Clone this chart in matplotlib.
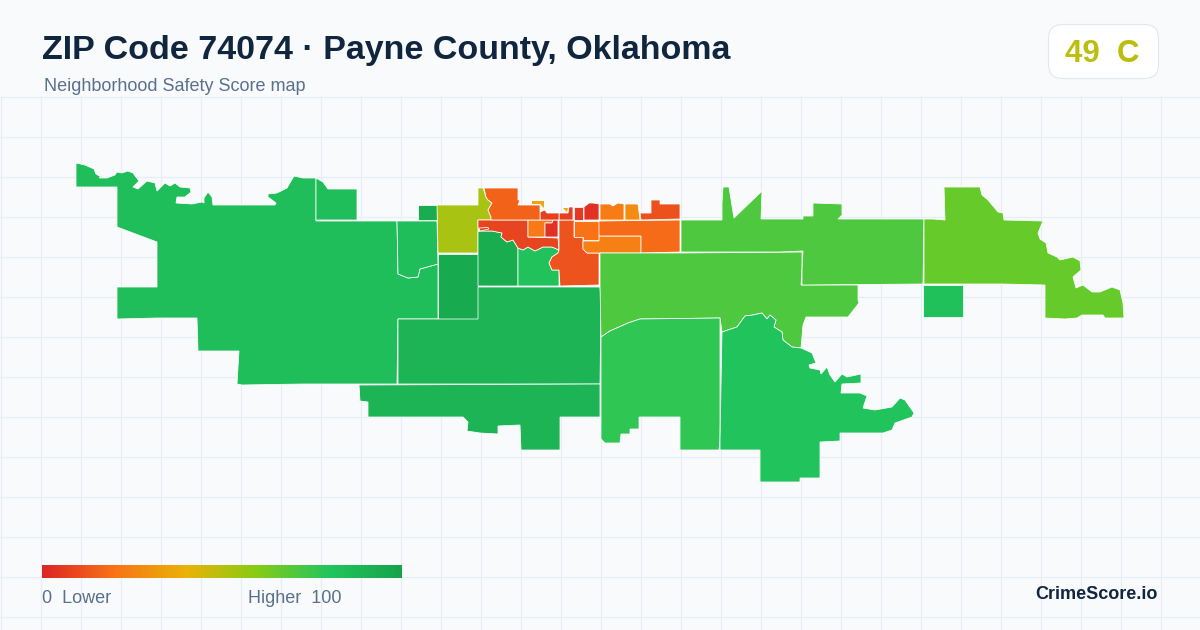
import matplotlib
matplotlib.use("Agg")
import numpy as np
import matplotlib.pyplot as plt
from matplotlib.colors import LinearSegmentedColormap
from matplotlib.patches import FancyBboxPatch, Polygon

plt.rcParams['font.family'] = ['Liberation Sans', 'DejaVu Sans']

# ---------- text ----------
TITLE = "ZIP Code 74074 · Payne County, Oklahoma"
SUBTITLE = "Neighborhood Safety Score map"
BADGE = "49  C"
BADGE_SCORE = 49
BRAND = "CrimeScore.io"
LEGEND_LOW = "0  Lower"
LEGEND_HIGH = "Higher  100"

# ---------- colour scale (score 0..100) ----------
scale_stops = [0.0, 0.2, 0.4, 0.6, 0.8, 1.0]
scale_colors = ["#dc2626", "#f97316", "#eab308", "#84cc16", "#22c55e", "#16a34a"]
cmap = LinearSegmentedColormap.from_list("safety", list(zip(scale_stops, scale_colors)))

# ---------- census-tract outlines, in map units ----------
west_main = [(76,163),(85,165),(94,169),(96,174),(101,177),(99,178),(107,178),(115,175),(117,172),(122,173),(128,171),(133,173),(139,181),(135,185),(133,187),(138,189),(147,181),(155,183),(157,191),(165,183),(170,186),(175,183),(180,187),(190,188),(191,192),(185,197),(177,197),(176,203),(192,204),(202,202),(204,203),(204,198),(208,192),(212,197),(213,205),(275,205),(276,203),(268,197),(268,194),(277,193),(287,188),(294,176),(303,178),(316,178),(316,221),(397,221),(398,274),(408,278),(418,277),(420,269),(438,264),(438,319),(398,319),(397,384),(303,384),(242,385),(237,384),(239,351),(198,351),(197,318),(157,318),(117,319),(117,287),(157,287),(157,242),(117,227),(117,187),(76,187)]
west_north = [(316,178),(323,182),(328,189),(357,189),(357,220),(316,220)]
west_notch = [(397,221),(437,221),(438,264),(420,269),(418,277),(408,278),(398,274)]
small_square = [(418,205),(437,205),(437,220),(418,220)]
yellow_block = [(437,205),(478,205),(478,188),(483,188),(486,197),(488,200),(492,203),(488,210),(491,217),(491,220),(478,220),(478,253),(438,253)]
dark_block = [(438,254),(478,254),(478,319),(438,319)]
south_center = [(398,319),(478,319),(478,287),(600,287),(601,300),(600,384),(398,384)]
south_strip = [(359,385),(600,384),(600,417),(560,417),(560,450),(521,450),(520,425),(498,426),(498,434),(480,433),(467,431),(468,422),(463,417),(368,417),(368,402),(360,401)]
river_dark = [(478,232),(480,231),(492,231),(502,233),(501,237),(507,242),(513,240),(518,248),(518,286),(478,286)]
river_green = [(518,248),(523,250),(528,247),(535,251),(543,247),(552,247),(559,250),(558,253),(552,257),(549,263),(552,270),(559,270),(559,286),(518,286)]
river_red = [(478,220),(528,220),(528,237),(558,238),(559,250),(552,247),(543,247),(535,251),(528,247),(523,250),(518,248),(513,240),(507,242),(501,237),(502,233),(492,231),(480,231),(478,228)]
river_lobe = [(479,228),(488,227.5),(489,229),(480,231)]
core_orange = [(528,220),(553,220),(552,223),(545,223),(545,237),(528,237)]
core_red = [(545,223),(552,223),(553,220),(558,220),(558,237),(545,237)]
center_south = [(559,220),(574,220),(574,237),(583,237),(583,249),(587,253),(599,253),(599,285),(560,286),(559,270),(552,270),(549,263),(552,257),(558,253),(559,250)]
center_east = [(574,221),(599,221),(599,240),(583,240),(583,237),(574,237)]
bar_orange = [(599,236),(641,236),(641,253),(587,253),(583,249),(583,241),(599,241)]
east_orange = [(599,221),(680,220),(680,252),(641,253),(641,236),(599,236)]
north_east_red = [(640,213),(651,213),(651,200),(660,200),(660,204),(680,204),(680,219),(641,220)]
north_amber = [(625,204),(638,204),(640,220),(625,220)]
north_orange = [(600,204),(610,204),(613,206),(618,203),(624,204),(624,220),(600,220)]
north_red_a = [(584,207),(589,203),(593,203),(599,204),(599,220),(584,220)]
north_red_b = [(574,207),(583,207),(583,220),(574,220)]
north_red_c = [(559,213),(568,213),(569,207),(573,207),(573,220),(559,220)]
north_red_d = [(540,212),(545,210),(547,213),(559,213),(559,220),(540,220)]
northwest_orange = [(484,188),(518,188),(518,200),(520,200),(518,205),(540,205),(540,220),(491,220),(491,217),(488,210),(492,203),(488,200),(486,197)]
gold_a = [(532,201),(544,201),(544,208),(542,206),(540,204),(532,204)]
gold_b = [(563,208),(568,208),(567,212)]
lime_center = [(600,253),(662,253),(680,253),(802,252),(802,268),(801,285),(858,285),(858,300),(859,303),(855,308),(848,317),(806,317),(803,325),(801,348),(792,347),(783,340),(782,332),(774,327),(776,320),(770,315),(767,319),(762,313),(753,315),(745,316),(737,327),(722,332),(720,318),(640,319),(628,323),(610,331),(601,337),(600,285)]
lime_north = [(681,220),(722,220),(722,203),(723,187),(729,187),(734,218),(762,191),(761,219),(803,219),(803,216),(813,216),(813,203),(842,204),(842,215),(838,219),(924,219),(923,284),(802,285),(802,270),(803,251),(780,252),(681,252)]
lime_east = [(924,219),(933,219),(945,220),(944,187),(980,187),(982,195),(988,200),(998,212),(1003,213),(1004,220),(1043,221),(1038,233),(1040,239),(1046,243),(1048,253),(1057,257),(1060,260),(1073,257),(1080,261),(1081,270),(1073,277),(1076,288),(1083,285),(1092,292),(1100,292),(1112,287),(1120,290),(1123,303),(1124,318),(1105,318),(1103,315),(1082,315),(1077,318),(1065,319),(1045,318),(1045,285),(1003,284),(924,284)]
east_square = [(923,285),(963,285),(963,317),(923,317)]
south_lime = [(601,337),(610,331),(628,323),(640,319),(720,318),(720,440),(719,450),(680,450),(680,417),(639,417),(639,429),(630,429),(630,434),(621,434),(620,443),(605,443),(601,439)]
south_east = [(722,332),(737,327),(745,316),(753,315),(762,313),(767,319),(770,315),(776,320),(774,327),(782,332),(783,340),(792,347),(801,348),(812,353),(816,363),(809,365),(810,368),(820,370),(821,374),(827,367),(830,375),(835,382),(842,374),(847,377),(861,374),(861,383),(842,384),(841,393),(860,393),(867,396),(863,408),(875,410),(892,407),(900,398),(905,400),(914,413),(912,417),(895,423),(892,430),(883,433),(840,433),(840,441),(820,442),(820,478),(800,478),(800,482),(760,482),(760,450),(720,450),(720,440)]

# ---------- tract scores ----------
tract_shapes = [west_main, west_north, west_notch, small_square, yellow_block, dark_block,
                south_center, south_strip, river_dark, river_green, river_red, river_lobe, core_orange,
                core_red, center_south, center_east, bar_orange, east_orange, north_east_red,
                north_amber, north_orange, north_red_a, north_red_b, north_red_c, north_red_d,
                northwest_orange, lime_center, lime_north, lime_east,
                east_square, south_lime, south_east]
tract_scores = [84, 84, 84, 94, 53, 96,
                90, 90, 94, 82, 8, 8, 22,
                3, 12, 20, 24, 18, 11,
                28, 23, 3, 5, 7, 7,
                16, 71, 71, 66,
                83, 77, 81]
sliver_shapes = [gold_a, gold_b]
sliver_scores = [36, 36]

W, H = 1200, 630
fig = plt.figure(figsize=(W / 100, H / 100), dpi=100, facecolor="#f8fafc")
ax = fig.add_axes([0, 0, 1, 1])
ax.set_xlim(0, W)
ax.set_ylim(H, 0)
ax.axis("off")

GRID = "#e8eff4"
for x in np.arange(0.5, W, 40):
    ax.plot([x, x], [96, H], color=GRID, lw=0.85, zorder=1, solid_capstyle="butt")
for y in np.arange(96.5, H, 40):
    ax.plot([0, W], [y, y], color=GRID, lw=0.85, zorder=1, solid_capstyle="butt")

for shape, score in zip(tract_shapes, tract_scores):
    ax.add_patch(Polygon(shape, closed=True, facecolor=cmap(score / 100), edgecolor="white",
                         lw=0.55, joinstyle="miter", zorder=2))
for shape, score in zip(sliver_shapes, sliver_scores):
    ax.add_patch(Polygon(shape, closed=True, facecolor=cmap(score / 100), edgecolor="none", zorder=2))

# title block
ax.text(42, 59, TITLE, fontsize=24.5, fontweight="bold", color="#10263f", va="baseline", ha="left", zorder=5)
ax.text(44, 91, SUBTITLE, fontsize=12.95, color="#5a708c", va="baseline", ha="left", zorder=5)

# badge
ax.add_patch(FancyBboxPatch((1048.5, 24.5), 110, 54, boxstyle="round,pad=0,rounding_size=14",
                            facecolor="white", edgecolor="#e2e8f0", lw=0.8, zorder=4))
ax.text(1065, 62, BADGE, fontsize=22.5, fontweight="bold", color=cmap(BADGE_SCORE / 100),
        va="baseline", ha="left", zorder=5)

# legend
gradient = np.linspace(0, 1, 360).reshape(1, -1)
ax.imshow(gradient, cmap=cmap, extent=(42, 402, 578, 565), aspect="auto", zorder=3, vmin=0, vmax=1)
ax.set_xlim(0, W)
ax.set_ylim(H, 0)
ax.text(42, 603, LEGEND_LOW, fontsize=12.95, color="#5a708c", va="baseline", ha="left", zorder=5)
ax.text(342, 603, LEGEND_HIGH, fontsize=12.95, color="#5a708c", va="baseline", ha="right", zorder=5)

# brand
ax.text(1158, 599, BRAND, fontsize=13.0, fontweight="bold", color="#10263f", va="baseline", ha="right", zorder=5)

fig.savefig("out.png", dpi=100, facecolor=fig.get_facecolor())
